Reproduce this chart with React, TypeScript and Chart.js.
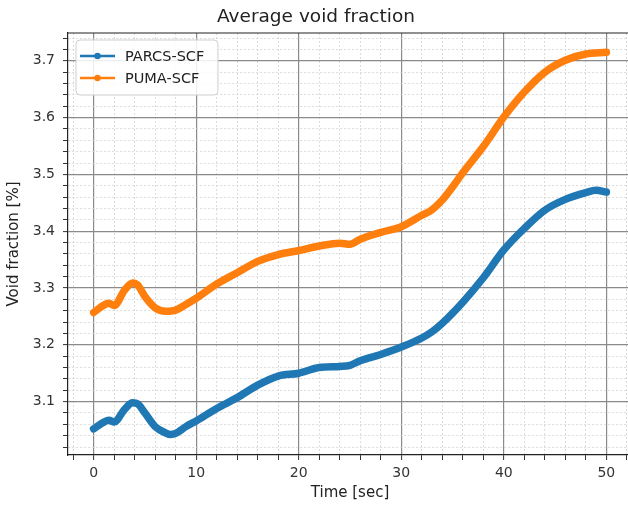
import React, { useEffect, useRef } from "react";
import { Chart, registerables } from "chart.js";

Chart.register(...registerables);

const TITLE = "Average void fraction";
const X_LABEL = "Time [sec]";
const Y_LABEL = "Void fraction [%]";

const PARCS_LABEL = "PARCS-SCF";
const PARCS_T = [0, 1, 1.5, 2, 3, 3.8, 4.3, 5, 6, 7, 7.5, 8, 9, 10, 12, 14, 16, 18, 20, 22, 24, 25, 26, 28, 30, 32, 33, 34, 36, 38, 40, 42, 44, 46, 48, 49, 50];
const PARCS_V = [3.052, 3.064, 3.067, 3.064, 3.086, 3.098, 3.096, 3.080, 3.056, 3.045, 3.042, 3.044, 3.056, 3.066, 3.088, 3.107, 3.129, 3.145, 3.150, 3.160, 3.162, 3.164, 3.172, 3.183, 3.196, 3.212, 3.223, 3.238, 3.275, 3.318, 3.367, 3.405, 3.437, 3.456, 3.468, 3.472, 3.469];

const PUMA_LABEL = "PUMA-SCF";
const PUMA_T = [0, 1, 1.5, 2, 3, 3.8, 4.3, 5, 6, 7, 8, 9, 10, 12, 14, 16, 18, 20, 22, 24, 25, 26, 28, 30, 32, 33, 34, 35, 36, 38, 40, 42, 44, 46, 48, 50];
const PUMA_V = [3.257, 3.270, 3.273, 3.269, 3.296, 3.309, 3.305, 3.285, 3.265, 3.259, 3.261, 3.271, 3.282, 3.307, 3.327, 3.347, 3.359, 3.366, 3.374, 3.379, 3.377, 3.386, 3.398, 3.408, 3.428, 3.438, 3.455, 3.478, 3.503, 3.549, 3.601, 3.645, 3.680, 3.701, 3.712, 3.715];

const X_MIN = -2.5, X_MAX = 52.5, X_MINOR = 2, X_MAJOR = 10;
const Y_MIN = 3.006, Y_MAX = 3.749, Y_MINOR = 0.02, Y_MAJOR = 0.1;

const BLUE = "#1f77b4";
const ORANGE = "#ff7f0e";
const FONT = "'DejaVu Sans', sans-serif";

const isMajor = (v: number, step: number) => Math.abs(v / step - Math.round(v / step)) < 1e-6;

const buildTicks = (min: number, max: number, step: number) => {
  const out: { value: number }[] = [];
  const start = Math.ceil(min / step - 1e-9);
  const end = Math.floor(max / step + 1e-9);
  for (let i = start; i <= end; i++) out.push({ value: +(i * step).toFixed(6) });
  return out;
};

const framePlugin = {
  id: "frame",
  afterDatasetsDraw(chart: any) {
    const { ctx, chartArea } = chart;
    ctx.save();
    ctx.strokeStyle = "#222";
    ctx.lineWidth = 1.2;
    ctx.beginPath();
    ctx.moveTo(chartArea.left, chartArea.top);
    ctx.lineTo(chartArea.right, chartArea.top);
    ctx.lineTo(chartArea.right, chartArea.bottom);
    ctx.stroke();
    ctx.restore();
  },
};

const legendPlugin = {
  id: "mplLegend",
  afterDatasetsDraw(chart: any) {
    const { ctx, chartArea } = chart;
    const x0 = chartArea.left + 8;
    const y0 = chartArea.top + 7;
    const w = 142, h = 55, r = 4;
    ctx.save();
    ctx.beginPath();
    ctx.moveTo(x0 + r, y0);
    ctx.lineTo(x0 + w - r, y0);
    ctx.arcTo(x0 + w, y0, x0 + w, y0 + r, r);
    ctx.lineTo(x0 + w, y0 + h - r);
    ctx.arcTo(x0 + w, y0 + h, x0 + w - r, y0 + h, r);
    ctx.lineTo(x0 + r, y0 + h);
    ctx.arcTo(x0, y0 + h, x0, y0 + h - r, r);
    ctx.lineTo(x0, y0 + r);
    ctx.arcTo(x0, y0, x0 + r, y0, r);
    ctx.closePath();
    ctx.fillStyle = "rgba(255,255,255,0.85)";
    ctx.fill();
    ctx.strokeStyle = "#cfcfcf";
    ctx.lineWidth = 1;
    ctx.stroke();
    chart.data.datasets.forEach((ds: any, i: number) => {
      const cy = y0 + 16 + i * 22;
      ctx.strokeStyle = ds.borderColor;
      ctx.lineWidth = 2.5;
      ctx.beginPath();
      ctx.moveTo(x0 + 4, cy);
      ctx.lineTo(x0 + 39, cy);
      ctx.stroke();
      ctx.fillStyle = ds.borderColor;
      ctx.beginPath();
      ctx.arc(x0 + 21.5, cy, 3.2, 0, Math.PI * 2);
      ctx.fill();
      ctx.fillStyle = "#222";
      ctx.font = `14.5px ${FONT}`;
      ctx.textBaseline = "middle";
      ctx.textAlign = "left";
      ctx.fillText(ds.label, x0 + 49, cy + 1);
    });
    ctx.restore();
  },
};

export default function App() {
  const ref = useRef<HTMLCanvasElement | null>(null);

  useEffect(() => {
    if (!ref.current) return;
    const gridColor = (step: number) => (c: any) =>
      c.tick && isMajor(c.tick.value, step) ? "#8a8a8a" : "#d2d2d2";
    const gridWidth = (step: number) => (c: any) =>
      c.tick && isMajor(c.tick.value, step) ? 1.2 : 0.8;
    const gridDash = (step: number) => (c: any) =>
      c.tick && !isMajor(c.tick.value, step) ? [2, 2] : [];

    const chart = new Chart(ref.current, {
      type: "line",
      data: {
        datasets: [
          {
            label: PARCS_LABEL,
            data: PARCS_T.map((t, i) => ({ x: t, y: PARCS_V[i] })),
            borderColor: BLUE,
            backgroundColor: BLUE,
            borderWidth: 7.5,
            pointRadius: 0,
            borderCapStyle: "round",
            borderJoinStyle: "round",
            cubicInterpolationMode: "monotone",
          },
          {
            label: PUMA_LABEL,
            data: PUMA_T.map((t, i) => ({ x: t, y: PUMA_V[i] })),
            borderColor: ORANGE,
            backgroundColor: ORANGE,
            borderWidth: 7.5,
            pointRadius: 0,
            borderCapStyle: "round",
            borderJoinStyle: "round",
            cubicInterpolationMode: "monotone",
          },
        ],
      },
      options: {
        responsive: false,
        animation: false,
        layout: { padding: { left: 0, right: 8, top: 0, bottom: 0 } },
        plugins: {
          legend: { display: false },
          tooltip: { enabled: false },
          title: {
            display: true,
            text: TITLE,
            color: "#222",
            font: { family: FONT, size: 18.5, weight: "normal", lineHeight: 1.2 },
            padding: { top: 6, bottom: 4.8 },
          },
        },
        scales: {
          x: {
            type: "linear",
            min: X_MIN,
            max: X_MAX,
            afterBuildTicks: (s: any) => { s.ticks = buildTicks(X_MIN, X_MAX, X_MINOR); },
            afterFit: (s: any) => { s.height = 51; },
            ticks: {
              autoSkip: false,
              maxRotation: 0,
              color: "#333",
              font: { family: FONT, size: 14 },
              padding: 5,
              callback: (v: any) => (isMajor(Number(v), X_MAJOR) ? String(Math.round(Number(v))) : ""),
            },
            grid: {
              color: gridColor(X_MAJOR),
              lineWidth: gridWidth(X_MAJOR),
              tickColor: "#333",
              tickLength: 5,
              tickWidth: 1,
            },
            border: { display: true, color: "#222", width: 1.2, dash: gridDash(X_MAJOR) },
            title: {
              display: true,
              text: X_LABEL,
              color: "#222",
              font: { family: FONT, size: 15, lineHeight: 1.2 },
              padding: { top: 0, bottom: 4 },
            },
          },
          y: {
            type: "linear",
            min: Y_MIN,
            max: Y_MAX,
            afterBuildTicks: (s: any) => { s.ticks = buildTicks(Y_MIN, Y_MAX, Y_MINOR); },
            afterFit: (s: any) => { s.width = 68; },
            ticks: {
              autoSkip: false,
              color: "#333",
              font: { family: FONT, size: 14 },
              padding: 8,
              callback: (v: any) => (isMajor(Number(v), Y_MAJOR) ? Number(v).toFixed(1) : ""),
            },
            grid: {
              color: gridColor(Y_MAJOR),
              lineWidth: gridWidth(Y_MAJOR),
              tickColor: "#333",
              tickLength: 5,
              tickWidth: 1,
            },
            border: { display: true, color: "#222", width: 1.2, dash: gridDash(Y_MAJOR) },
            title: {
              display: true,
              text: Y_LABEL,
              color: "#222",
              font: { family: FONT, size: 15, lineHeight: 1.2 },
              padding: { top: 5, bottom: 0 },
            },
          },
        },
      } as any,
      plugins: [framePlugin, legendPlugin],
    });
    return () => chart.destroy();
  }, []);

  return (
    <div
      style={{
        position: "fixed",
        left: 0,
        top: 0,
        width: 628,
        height: 506,
        overflow: "hidden",
        background: "#fff",
      }}
    >
      <canvas ref={ref} width={640} height={506} style={{ display: "block", width: 640, height: 506 }} />
    </div>
  );
}
